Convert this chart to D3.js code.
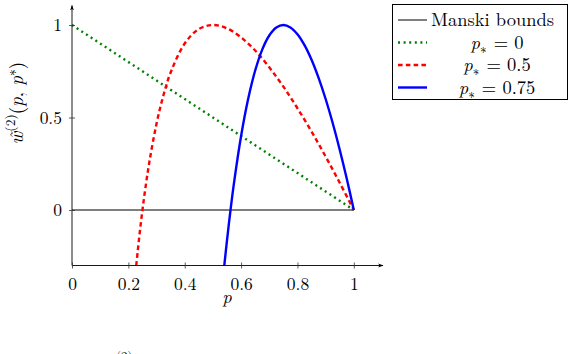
<!DOCTYPE html>
<html><head><meta charset="utf-8">
<script src="https://cdn.jsdelivr.net/npm/d3@7"></script>
<style>
body{margin:0;background:#fff;}
svg text{font-family:"Latin Modern Roman","CMU Serif","Liberation Serif","Times New Roman","DejaVu Serif",serif !important;fill:#000;}
</style></head>
<body><svg id="c" width="570" height="354"></svg>
<script>
// data
const xTicks = [0, 0.2, 0.4, 0.6, 0.8, 1];
const xTickLabels = ["0", "0.2", "0.4", "0.6", "0.8", "1"];
const yTicks = [0, 0.5, 1];
const yTickLabels = ["0", "0.5", "1"];
const manskiP = [0, 1];
const manskiW = [0, 0];
const p0P = [0, 1];
const p0W = [1, 0];
const p05P = [0.2279, 0.24, 0.25, 0.26, 0.275, 0.3, 0.325, 0.35, 0.4, 0.45, 0.5, 0.55, 0.6, 0.65, 0.7, 0.75, 0.8, 0.85, 0.9, 0.95, 1];
const p05W = [-0.3, -0.127, 0, 0.114, 0.264, 0.467, 0.623, 0.743, 0.9, 0.978, 1, 0.982, 0.933, 0.862, 0.771, 0.667, 0.55, 0.424, 0.289, 0.147, 0];
const p075P = [0.5404, 0.55, 0.5625, 0.575, 0.6, 0.625, 0.65, 0.675, 0.7, 0.725, 0.75, 0.775, 0.8, 0.825, 0.85, 0.875, 0.9, 0.925, 0.95, 0.975, 1];
const p075W = [-0.3, -0.164, 0, 0.148, 0.4, 0.6, 0.754, 0.867, 0.943, 0.986, 1, 0.987, 0.95, 0.891, 0.812, 0.714, 0.6, 0.47, 0.326, 0.169, 0];
const legendLabels = ["Manski bounds", "p∗ = 0", "p∗ = 0.5", "p∗ = 0.75"];

const FONT = '"Latin Modern Roman","CMU Serif","Liberation Serif","Times New Roman","DejaVu Serif",serif';
const svg = d3.select("#c").style("font-family", FONT);
const x = d3.scaleLinear().domain([0, 1.1]).range([72, 382]);
const y = d3.scaleLinear().domain([-0.3, 1.1]).range([265.5, 6.5]);

const defs = svg.append("defs");
defs.append("marker").attr("id","arr").attr("viewBox","0 0 10 10").attr("refX",9).attr("refY",5)
  .attr("markerWidth",6).attr("markerHeight",6).attr("orient","auto")
  .append("path").attr("d","M0,1.5 L10,5 L0,8.5 L2.5,5 Z").attr("fill","#000");

// series
const series = [
  {p: manskiP, w: manskiW, color: "#555", width: 1.3, dash: null},
  {p: p0P, w: p0W, color: "#008000", width: 2.4, dash: "2,3.6"},
  {p: p05P, w: p05W, color: "#ff0000", width: 2.4, dash: "4.6,3.2"},
  {p: p075P, w: p075W, color: "#0000ff", width: 2.4, dash: null}
];
const line = d3.line().x(d => x(d[0])).y(d => y(d[1])).curve(d3.curveCatmullRom.alpha(0.5));
series.forEach(s => {
  const pts = s.p.map((v, i) => [v, s.w[i]]);
  svg.append("path").attr("d", line(pts)).attr("fill","none")
    .attr("stroke", s.color).attr("stroke-width", s.width)
    .attr("stroke-dasharray", s.dash);
});

// axes
svg.append("line").attr("x1", x(0)).attr("x2", x(1.1)+1).attr("y1", y(-0.3)).attr("y2", y(-0.3))
  .attr("stroke","#000").attr("stroke-width",0.9).attr("marker-end","url(#arr)");
svg.append("line").attr("x1", x(0)).attr("x2", x(0)).attr("y1", y(-0.3)).attr("y2", y(1.1)-1)
  .attr("stroke","#000").attr("stroke-width",0.9).attr("marker-end","url(#arr)");

const xa = svg.append("g").attr("transform", `translate(0,${y(-0.3)})`)
  .call(d3.axisBottom(x).tickValues(xTicks).tickSize(3).tickFormat((d,i) => xTickLabels[i]));
xa.attr("font-family", FONT);
xa.select(".domain").remove();
xa.selectAll(".tick line").attr("y1",-3).attr("y2",3).attr("stroke","#333").attr("stroke-width",0.8);
xa.selectAll(".tick text").attr("y",12).attr("dy","0.71em").attr("font-size",17.5).style("font-family", FONT);

const ya = svg.append("g").attr("transform", `translate(${x(0)},0)`)
  .call(d3.axisLeft(y).tickValues(yTicks).tickSize(3).tickFormat((d,i) => yTickLabels[i]));
ya.attr("font-family", FONT);
ya.select(".domain").remove();
ya.selectAll(".tick line").attr("x1",-3).attr("x2",3).attr("stroke","#333").attr("stroke-width",0.8);
ya.selectAll(".tick text").attr("x",-10).attr("dy","0.32em").attr("font-size",17.5).style("font-family", FONT);

// axis labels
svg.append("text").attr("x", x(0.55)).attr("y", 303).attr("text-anchor","middle")
  .attr("font-size",18.5).attr("font-style","italic").text("p");
const yl = svg.append("text").attr("transform","translate(23,103) rotate(-90)")
  .attr("text-anchor","middle").attr("font-size",19);
yl.append("tspan").attr("font-style","italic").text("w̃");
yl.append("tspan").attr("font-size",13.5).attr("dy",-8).text("(2)");
yl.append("tspan").attr("dy",8).text("(");
yl.append("tspan").attr("font-style","italic").text("p");
yl.append("tspan").text(", ");
yl.append("tspan").attr("font-style","italic").text("p");
yl.append("tspan").attr("font-size",13.5).attr("dy",-7).text("∗");
yl.append("tspan").attr("dy",7).text(")");

// legend
const lg = svg.append("g");
lg.append("rect").attr("x",392.5).attr("y",4.5).attr("width",175).attr("height",95)
  .attr("fill","#fff").attr("stroke","#000").attr("stroke-width",1);
series.forEach((s, i) => {
  const yy = 20 + i * 22.5;
  lg.append("line").attr("x1",398).attr("x2",427).attr("y1",yy).attr("y2",yy)
    .attr("stroke", i === 0 ? "#000" : s.color).attr("stroke-width", i === 0 ? 1 : s.width).attr("stroke-dasharray", s.dash);
  const t = lg.append("text").attr("y", yy + 6).attr("font-size",18.5);
  if (i === 0) {
    t.attr("x",431).text(legendLabels[0]);
  } else {
    t.attr("x",497).attr("text-anchor","middle");
    const parts = legendLabels[i].split("∗");
    t.append("tspan").attr("font-style","italic").text("p");
    t.append("tspan").attr("font-size",13).attr("dy",4).text("∗");
    t.append("tspan").attr("dy",-4).attr("dx",1).text(parts[1]);
  }
});

// cut-off caption (reference shows only the tops of this line)
const cap = svg.append("text").attr("x",104).attr("y",369).attr("font-size",18);
cap.append("tspan").attr("font-style","italic").text("w̃");
cap.append("tspan").attr("font-size",13).attr("dy",-8).text("(2)");
cap.append("tspan").attr("dx",6).attr("dy",8).text("(");
cap.append("tspan").attr("font-style","italic").text("p, p");
cap.append("tspan").text("∗");
cap.append("tspan").attr("dx",8).text(")");
</script></body></html>
